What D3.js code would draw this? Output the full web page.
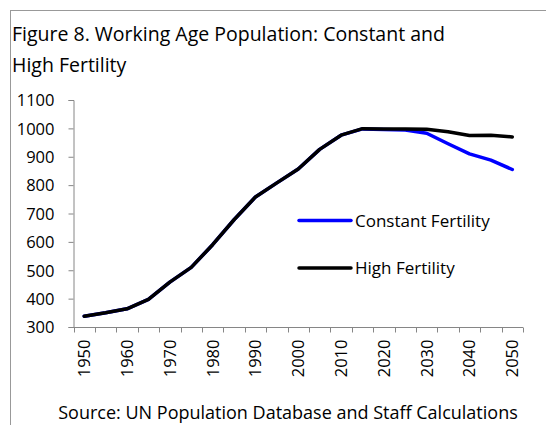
<!DOCTYPE html>
<html>
<head>
<meta charset="utf-8">
<script src="https://cdn.jsdelivr.net/npm/d3@7"></script>
<style>
  body { margin: 0; background: #fff; }
  text { font-family: "Open Sans", sans-serif; fill: #000; }
</style>
</head>
<body>
<svg id="chart" width="546" height="425"></svg>
<script>
// data
var years = [1950, 1955, 1960, 1965, 1970, 1975, 1980, 1985, 1990, 1995, 2000,
             2005, 2010, 2015, 2020, 2025, 2030, 2035, 2040, 2045, 2050];
var constant_fert = [338, 350, 364, 397, 458, 510, 590, 678, 758, 808, 857,
                     926, 976, 998, 996, 994, 983, 946, 910, 888, 855];
var high_fert = [338, 350, 364, 397, 458, 510, 590, 678, 758, 808, 857,
                 926, 976, 999, 998, 998, 997, 988, 975, 976, 970];
var y_ticks = [300, 400, 500, 600, 700, 800, 900, 1000, 1100];
var series_names = ["Constant Fertility", "High Fertility"];
var series_colors = ["#0000ff", "#000000"];

var svg = d3.select("#chart");
var axis_color = "#868686";

// frame (top and left edges only)
svg.append("line")
    .attr("x1", 10).attr("y1", 10.5).attr("x2", 546).attr("y2", 10.5)
    .attr("stroke", "#999").attr("stroke-width", 1)
svg.append("line")
    .attr("x1", 10.5).attr("y1", 10).attr("x2", 10.5).attr("y2", 425)
    .attr("stroke", "#999").attr("stroke-width", 1)

// title
var title = svg.append("text")
    .attr("x", 12)
    .attr("font-size", "19.5px")
title.append("tspan").attr("x", 12).attr("y", 41).text("Figure 8. Working Age Population: Constant and")
title.append("tspan").attr("x", 12).attr("y", 72).text("High Fertility")

var x = d3.scaleBand().domain(years).range([73.5, 523]).paddingInner(0).paddingOuter(0);
var y = d3.scaleLinear().domain([300, 1100]).range([327, 100]);

// y axis
var yAxis = svg.append("g")
    .attr("transform", "translate(73.5,0)")
    .call(d3.axisLeft(y).tickValues(y_ticks).tickSize(5).tickPadding(14).tickFormat(d3.format("d")))
yAxis.select(".domain").attr("stroke", axis_color)
yAxis.selectAll(".tick line").attr("stroke", axis_color)
yAxis.selectAll(".tick text")
    .attr("font-size", "16.5px")
    .attr("font-family", "Open Sans, sans-serif")
    .attr("fill", "#000")
    .attr("dy", "0.35em")

// x axis: ticks sit on category boundaries
var xg = svg.append("g").attr("transform", "translate(0,327.5)")
xg.append("line")
    .attr("x1", x.range()[0]).attr("x2", x.range()[1])
    .attr("stroke", axis_color)
var edges = years.map(function(d) { return x(d); }).concat([x.range()[1]]);
xg.selectAll("line.tk").data(edges).enter().append("line")
    .attr("class", "tk")
    .attr("x1", function(d) { return Math.round(d) + 0.5; })
    .attr("x2", function(d) { return Math.round(d) + 0.5; })
    .attr("y1", 0).attr("y2", 5)
    .attr("stroke", axis_color)
xg.selectAll("text").data(years.filter(function(d) { return d % 10 === 0; })).enter().append("text")
    .attr("transform", function(d) {
        return "translate(" + (x(d) + x.bandwidth() / 2 + 6) + ",12) rotate(-90)";
    })
    .attr("text-anchor", "end")
    .attr("font-size", "16.5px")
    .text(function(d) { return d; })

// lines
var line = d3.line()
    .x(function(d, i) { return x(years[i]) + x.bandwidth() / 2; })
    .y(function(d) { return y(d); })

var all_series = [constant_fert, high_fert];
for (var i = 0; i < all_series.length; i++) {
    svg.append("path")
        .datum(all_series[i])
        .attr("d", line)
        .attr("fill", "none")
        .attr("stroke", series_colors[i])
        .attr("stroke-width", 3.5)
        .attr("stroke-linejoin", "round")
        .attr("stroke-linecap", "round")
}

// legend
for (var j = 0; j < series_names.length; j++) {
    var ly = 220.5 + j * 47.5;
    svg.append("line")
        .attr("x1", 299).attr("x2", 351)
        .attr("y1", ly).attr("y2", ly)
        .attr("stroke", series_colors[j])
        .attr("stroke-width", 3.5)
        .attr("stroke-linecap", "round")
    svg.append("text")
        .attr("x", 355)
        .attr("y", ly + 6)
        .attr("font-size", "17px")
        .text(series_names[j])
}

// source note
svg.append("text")
    .attr("x", 288)
    .attr("y", 419)
    .attr("text-anchor", "middle")
    .attr("font-size", "18px")
    .text("Source: UN Population Database and Staff Calculations")
</script>
</body>
</html>
